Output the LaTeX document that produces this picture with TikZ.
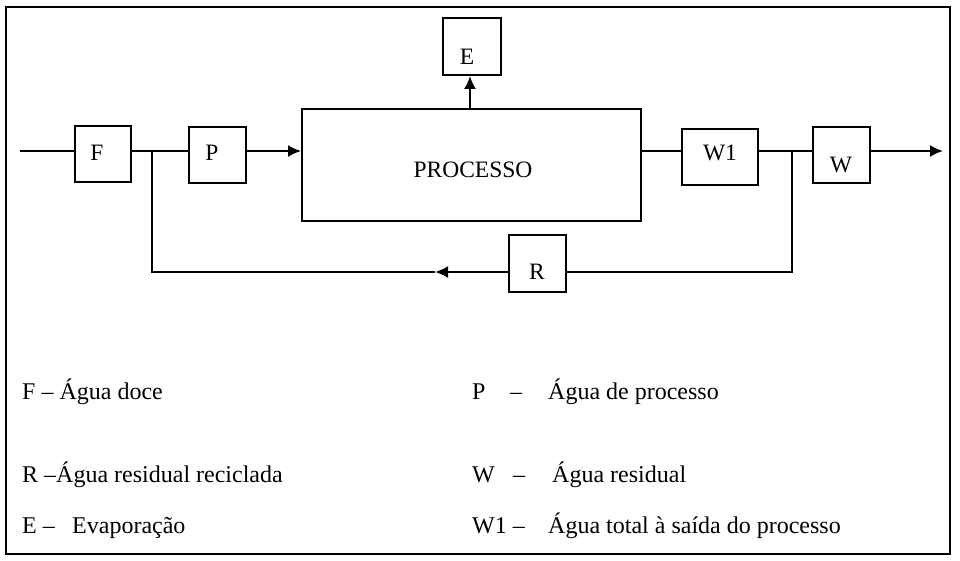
\documentclass[tikz,border=0pt]{standalone}
\usepackage{fontspec}
\setmainfont{Liberation Serif}
\usetikzlibrary{arrows.meta}
\begin{document}
\begin{tikzpicture}[x=1pt,y=-1pt,
  box/.style={draw, line width=1.9pt, inner sep=0pt},
  conn/.style={line width=2pt},
  arr/.style={conn, -{Latex[length=13pt,width=12pt]}},
  legend/.style={anchor=base west, inner sep=0pt, font=\fontsize{24}{27}\selectfont},
  boxtext/.style={inner sep=0pt, font=\fontsize{23.5}{27}\selectfont}]
\useasboundingbox (0,0) rectangle (960,560);
\draw[line width=1.8pt] (6,7) rectangle (950,554);
% boxes
\node[box, minimum width=56pt, minimum height=56pt] (F) at (103,154) {};
\node[boxtext] at (97,153) {F};
\node[box, minimum width=57pt, minimum height=56pt] (P) at (217.5,155) {};
\node[boxtext] at (212,153) {P};
\node[box, minimum width=339pt, minimum height=112pt] (PROC) at (471.5,165) {};
\node[boxtext] at (473,170) {PROCESSO};
\node[box, minimum width=76pt, minimum height=56pt] (W1) at (720,157) {};
\node[boxtext] at (720,153) {W1};
\node[box, minimum width=57pt, minimum height=56pt] (W) at (841.5,155) {};
\node[boxtext] at (841,165) {W};
\node[box, minimum width=57pt, minimum height=57pt] (R) at (537.5,263.5) {};
\node[boxtext] at (537,272) {R};
\node[box, minimum width=58pt, minimum height=57pt] (E) at (472,46.5) {};
\node[boxtext] at (467,57) {E};
% coordinates
\coordinate (in) at (20,151);
\coordinate (J1) at (152,151);
\coordinate (J2) at (792,151);
\coordinate (out) at (943,151);
\coordinate (B1) at (152,272);
\coordinate (B2) at (792,272);
\coordinate (tip) at (435,272);
% connectors
\draw[conn] (in) -- (in -| F.west);
\draw[conn] (J1 -| F.east) -- (J1 -| P.west);
\draw[arr] (J1 -| P.east) -- (J1 -| PROC.west);
\draw[conn] (J2 -| PROC.east) -- (J2 -| W1.west);
\draw[conn] (J2 -| W1.east) -- (J2 -| W.west);
\draw[arr] (J2 -| W.east) -- (out);
\draw[conn] (J2) -- (B2) -- (B2 -| R.east);
\draw[arr] (B2 -| R.west) -- (tip);
\draw[conn] (tip) -- (B1) -- (J1);
\draw[arr] (PROC.north -| 470,0) -- (E.south -| 470,0);
% legend
\node[legend] at (22,399) {F – Água doce};
\node[legend] at (22,482) {R –Água residual reciclada};
\node[legend] at (22,533) {E –};
\node[legend] at (72,533) {Evaporação};
\node[legend] at (472,399) {P};
\node[legend] at (510,399) {–};
\node[legend] at (548,399) {Água de processo};
\node[legend] at (472,482) {W};
\node[legend] at (513,482) {–};
\node[legend] at (552,482) {Água residual};
\node[legend] at (472,533) {W1 –};
\node[legend] at (548,533) {Água total à saída do processo};
\end{tikzpicture}
\end{document}
